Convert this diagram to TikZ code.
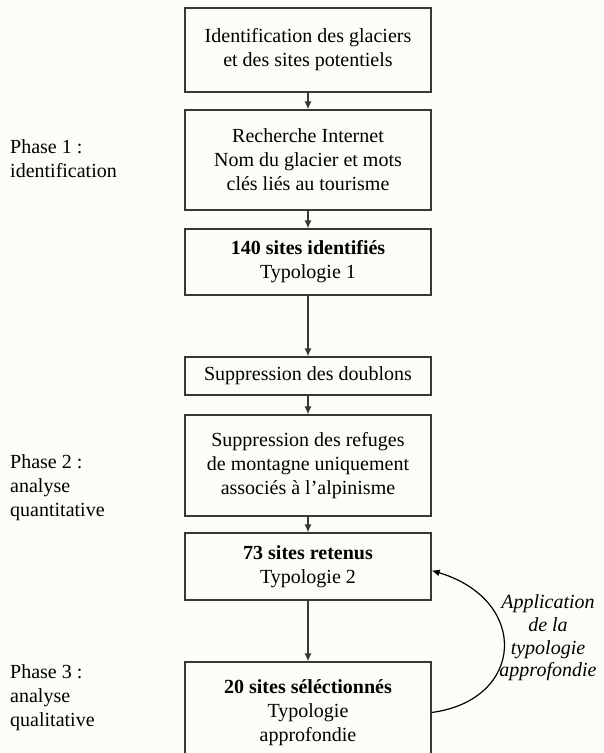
\documentclass[tikz,border=0pt]{standalone}
\usepackage{fontspec}
\setmainfont{Liberation Serif}
\usetikzlibrary{arrows.meta}
\definecolor{paper}{RGB}{253,253,248}
\definecolor{ink}{RGB}{55,55,55}
\begin{document}
\begin{tikzpicture}[x=1pt,y=-1pt,
	box/.style={draw=ink,line width=1.3pt,minimum width=246pt,inner sep=0,align=center,font=\fontsize{20}{24}\selectfont},
	phase/.style={anchor=west,inner sep=0,align=left,font=\fontsize{20}{24}\selectfont},
	arr/.style={draw=ink,line width=1.2pt,-{Latex[length=8pt,width=7pt]}}]
	\clip (0,0) rectangle (603,753);
	\fill[paper] (0,0) rectangle (603,753);
	\node[box,minimum height=84pt] (1) at (308,50) {Identification des glaciers\\et des sites potentiels};
	\node[box,minimum height=100pt] (2) at (308,160) {Recherche Internet\\Nom du glacier et mots\\clés liés au tourisme};
	\node[box,minimum height=66pt] (3) at (308,262) {\textbf{140 sites identifiés}\\Typologie 1};
	\node[box,minimum height=38pt] (4) at (308,376) {Suppression des doublons};
	\node[box,minimum height=101pt] (5) at (308,465.5) {Suppression des refuges\\de montagne uniquement\\associés à l’alpinisme};
	\node[box,minimum height=67pt] (6) at (308,566.5) {\textbf{73 sites retenus}\\Typologie 2};
	\node[box,minimum height=101pt] (7) at (308,712.5) {\textbf{20 sites séléctionnés}\\Typologie\\approfondie};
	\node[phase] (p1) at (10,159) {Phase 1 :\\identification};
	\node[phase] (p2) at (10,488) {Phase 2 :\\analyse\\quantitative};
	\node[phase] (p3) at (10,698) {Phase 3 :\\analyse\\qualitative};
	\node[inner sep=0,align=center,font=\fontsize{20}{22.7}\selectfont\itshape] (a) at (548,638) {Application\\de la\\typologie\\approfondie};
	\draw[arr] (1) -- (2);
	\draw[arr] (2) -- (3);
	\draw[arr] (3) -- (4);
	\draw[arr] (4) -- (5);
	\draw[arr] (5) -- (6);
	\draw[arr] (6) -- (7);
	\draw[arr,draw=black] (7.east) .. controls (525,700) and (530,600) .. ([yshift=-4pt]6.east);
\end{tikzpicture}
\end{document}
